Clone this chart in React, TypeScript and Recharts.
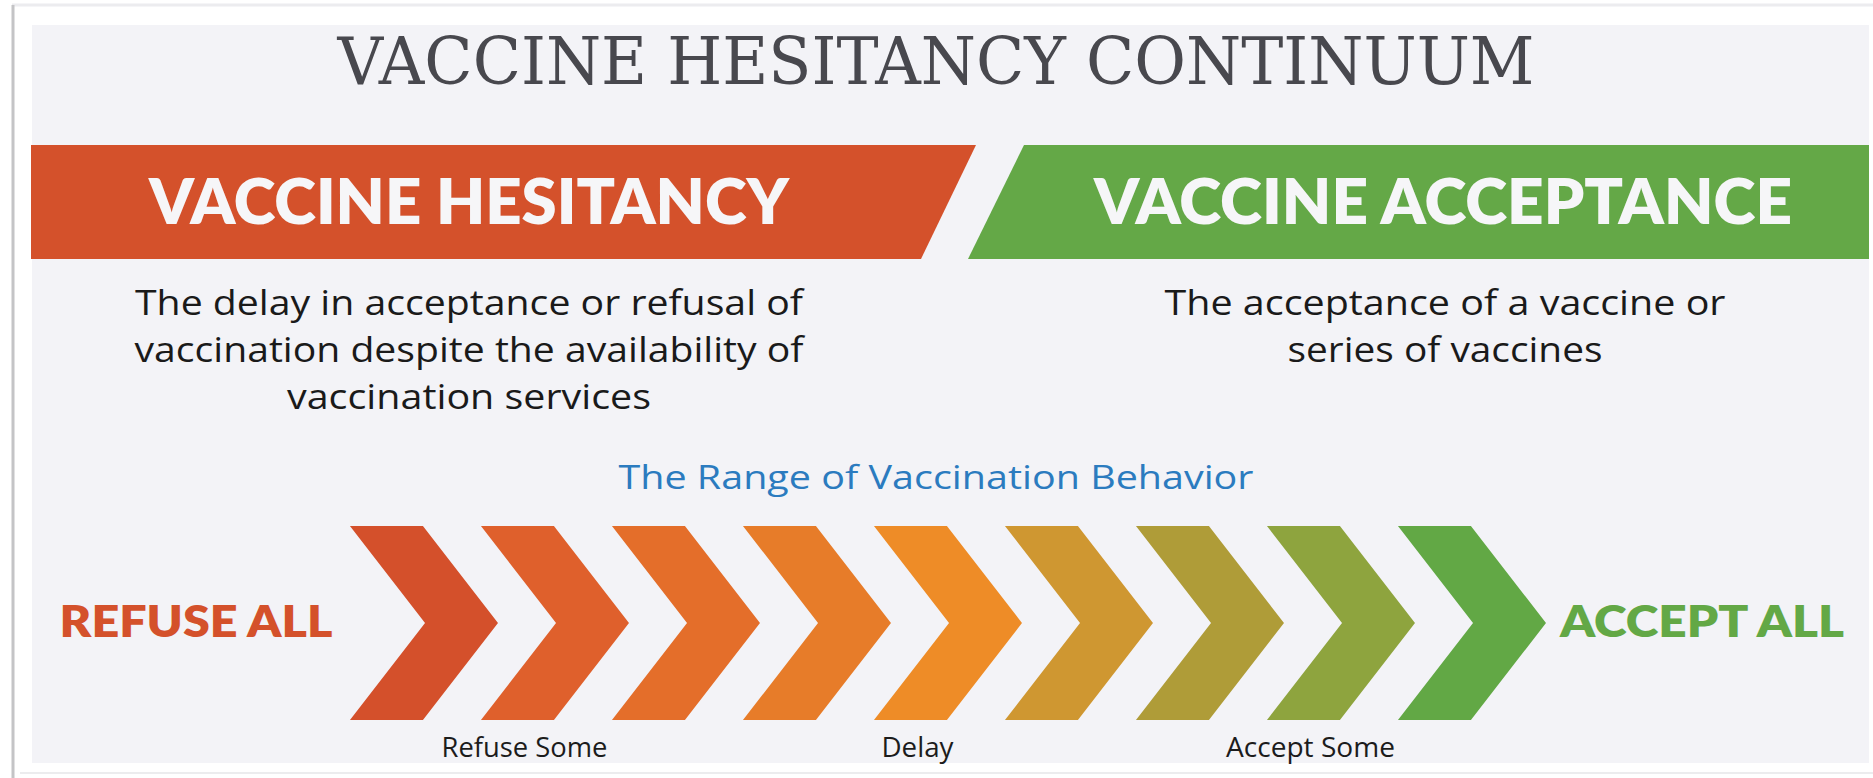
import { BarChart, Bar, XAxis, YAxis, Cell, Customized } from 'recharts'

// strip the browser's default body margin so the picture starts at 0,0
if (typeof document !== 'undefined') document.body.style.margin = '0'

const stepIds = ['1', '2', '3', '4', '5', '6', '7', '8', '9']
const stepValues = [1, 1, 1, 1, 1, 1, 1, 1, 1]
const stepLabels = ['', 'Refuse Some', '', '', 'Delay', '', '', 'Accept Some', '']
const hesitancyLines = ['The delay in acceptance or refusal of', 'vaccination despite the availability of', 'vaccination services']
const acceptanceLines = ['The acceptance of a vaccine or', 'series of vaccines']

const palette = ['#d4502b', '#df602c', '#e46e2a', '#e77c29', '#ee8c27', '#cf9731', '#af9c38', '#8ea43e', '#62a845']
const RED = '#d4512b'
const GREEN = '#64a847'
// measured label widths so the text lines up with the original
const tickWidths: Record<string, number> = { 'Refuse Some': 166, Delay: 72, 'Accept Some': 169 }

const data = stepIds.map((id, i) => ({ id, value: stepValues[i], label: stepLabels[i] }))

const Chevron = (props: any) => {
  const { x, y, width, height, fill } = props
  const l = x + width * 0.076
  const t = width * 0.557
  const d = width * 0.573
  const mid = y + height / 2
  const pts = [
    [l, y], [l + t, y], [l + t + d, mid], [l + t, y + height], [l, y + height], [l + d, mid],
  ].map((p) => p.join(',')).join(' ')
  return <polygon points={pts} fill={fill} />
}

const StepTick = (props: any) => {
  const { x, y, payload } = props
  const label = stepLabels[payload.index] ?? ''
  if (!label) return null
  return (
    <text x={x - 12} y={y + 37} textAnchor="middle" fontFamily="'Open Sans', sans-serif" fontSize={27} fill="#1c1c1c" textLength={tickWidths[label]} lengthAdjust="spacingAndGlyphs">
      {label}
    </text>
  )
}

const sans = "'Open Sans', sans-serif"
const bold = "Lato, 'Open Sans', sans-serif"

const Decor = () => (
  <g>
    {/* frame + panel */}
    <line x1={12} y1={5} x2={1873} y2={5} stroke="#ececef" strokeWidth={3} />
    <line x1={13} y1={5} x2={13} y2={778} stroke="#c4c4c6" strokeWidth={3} />
    <line x1={20} y1={773} x2={1873} y2={773} stroke="#ececee" strokeWidth={2} />
    <rect x={32} y={25} width={1837} height={738} fill="#f3f3f7" />

    <text x={936} y={84} textAnchor="middle" fontFamily="'DejaVu Serif', serif" fontSize={65} fill="#48484e" textLength={1197} lengthAdjust="spacingAndGlyphs">
      VACCINE HESITANCY CONTINUUM
    </text>

    <polygon points="31,145 976,145 921,259 31,259" fill={RED} />
    <polygon points="1024,145 1869,145 1869,259 968,259" fill={GREEN} />
    <text x={469} y={224} textAnchor="middle" fontFamily={bold} fontWeight={800} fontSize={62} fill="#f6f6f8" textLength={640} lengthAdjust="spacingAndGlyphs">
      VACCINE HESITANCY
    </text>
    <text x={1443} y={224} textAnchor="middle" fontFamily={bold} fontWeight={800} fontSize={62} fill="#f6f6f8" textLength={698} lengthAdjust="spacingAndGlyphs">
      VACCINE ACCEPTANCE
    </text>

    {hesitancyLines.map((s, i) => (
      <text key={s} x={469} y={315 + i * 47} textAnchor="middle" fontFamily={sans} fontSize={35} fill="#1a1a1a" textLength={[668, 669, 364][i]} lengthAdjust="spacingAndGlyphs">
        {s}
      </text>
    ))}
    {acceptanceLines.map((s, i) => (
      <text key={s} x={1445} y={315 + i * 47} textAnchor="middle" fontFamily={sans} fontSize={35} fill="#1a1a1a" textLength={[561, 315][i]} lengthAdjust="spacingAndGlyphs">
        {s}
      </text>
    ))}

    <text x={936} y={489} textAnchor="middle" fontFamily={sans} fontSize={32} fill="#2b7bbf" textLength={635} lengthAdjust="spacingAndGlyphs">
      The Range of Vaccination Behavior
    </text>

    <text x={196} y={637} textAnchor="middle" fontFamily={bold} fontWeight={800} fontSize={43} fill={RED} textLength={273} lengthAdjust="spacingAndGlyphs">
      REFUSE ALL
    </text>
    <text x={1702} y={637} textAnchor="middle" fontFamily={bold} fontWeight={800} fontSize={43} fill="#63a846" textLength={284} lengthAdjust="spacingAndGlyphs">
      ACCEPT ALL
    </text>
  </g>
)

export default function App() {
  return (
    <div style={{ width: 1873, height: 778, background: '#ffffff' }}>
      <BarChart width={1873} height={778} data={data} margin={{ top: 526, right: 354, bottom: 18, left: 340 }} barCategoryGap={0}>
        <Customized component={<Decor />} />
        <XAxis dataKey="id" height={40} axisLine={false} tickLine={false} tickSize={0} tickMargin={0} interval={0} tick={<StepTick />} />
        <YAxis hide width={0} domain={[0, 1]} />
        <Bar dataKey="value" shape={<Chevron />} isAnimationActive={false}>
          {data.map((d, i) => (
            <Cell key={d.id} fill={palette[i]} />
          ))}
        </Bar>
      </BarChart>
    </div>
  )
}
